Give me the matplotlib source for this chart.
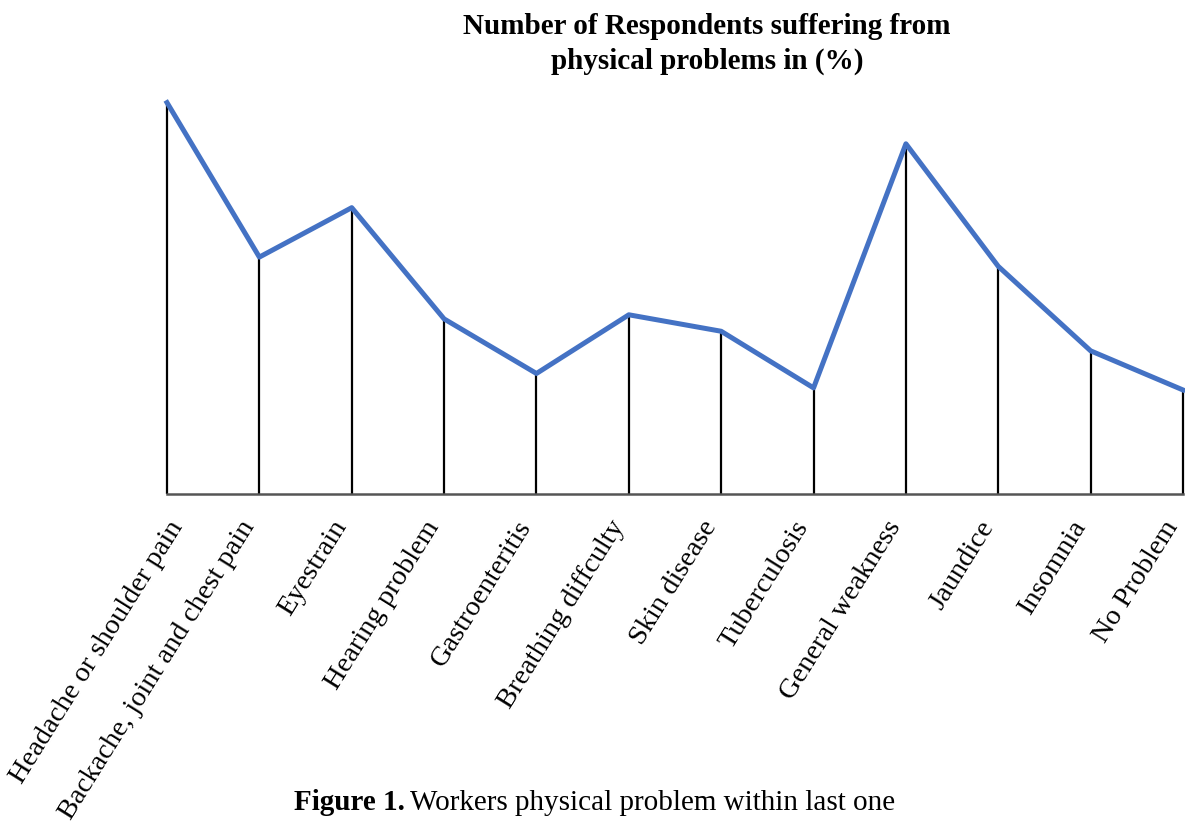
import matplotlib
matplotlib.use("Agg")
import matplotlib.pyplot as plt
from matplotlib.transforms import ScaledTranslation

# problems and share of respondents (%)
problems = ["Headache or shoulder pain", "Backache, joint and chest pain", "Eyestrain",
            "Hearing problem", "Gastroenteritis", "Breathing diffculty", "Skin disease",
            "Tuberculosis", "General weakness", "Jaundice", "Insomnia", "No Problem"]
percent = [38.0, 23.0, 27.8, 17.0, 11.7, 17.4, 15.8, 10.3, 34.0, 22.1, 13.9, 10.1]

plt.rcParams["font.family"] = ["Liberation Serif", "DejaVu Serif"]

fig = plt.figure(figsize=(11.85, 8.28), dpi=100)
ax = fig.add_axes([167 / 1185, 333 / 828, 1016 / 1185, 405 / 828])

x = list(range(len(problems)))
ax.vlines(x, 0, percent, color="black", linewidth=1.6, clip_on=False, zorder=2)
ax.plot(x, percent, color="#4472C4", linewidth=3.6, clip_on=False, zorder=3)

ax.set_xlim(0, len(problems) - 1)
ax.set_ylim(0, 405 / 10.3)
for s in ["top", "right", "left"]:
    ax.spines[s].set_visible(False)
ax.spines["bottom"].set_color("#555555")
ax.spines["bottom"].set_linewidth(1.8)
ax.set_yticks([])
ax.set_xticks(x)
labels = ax.set_xticklabels(problems, rotation=58, ha="right", va="center",
                            rotation_mode="anchor", fontsize=20.5)
ax.tick_params(axis="x", length=0, pad=20)

# excel-style placement: labels end just left of the tick, first one pushed right
for i, lab in enumerate(labels):
    dx = 0.11 if i == 0 else -0.10
    lab.set_transform(lab.get_transform() + ScaledTranslation(dx, 0, fig.dpi_scale_trans))

fig.text(707 / 1185, 1 - 44 / 828,
         "Number of Respondents suffering from\nphysical problems in (%)",
         ha="center", va="center", fontsize=21, fontweight="bold", linespacing=1.32)

fig.text(405 / 1185, 1 - 803 / 828, "Figure 1.", ha="right", va="center",
         fontsize=21, fontweight="bold")
fig.text(410 / 1185, 1 - 803 / 828, "Workers physical problem within last one",
         ha="left", va="center", fontsize=21)

fig.savefig("out.png", dpi=100)
